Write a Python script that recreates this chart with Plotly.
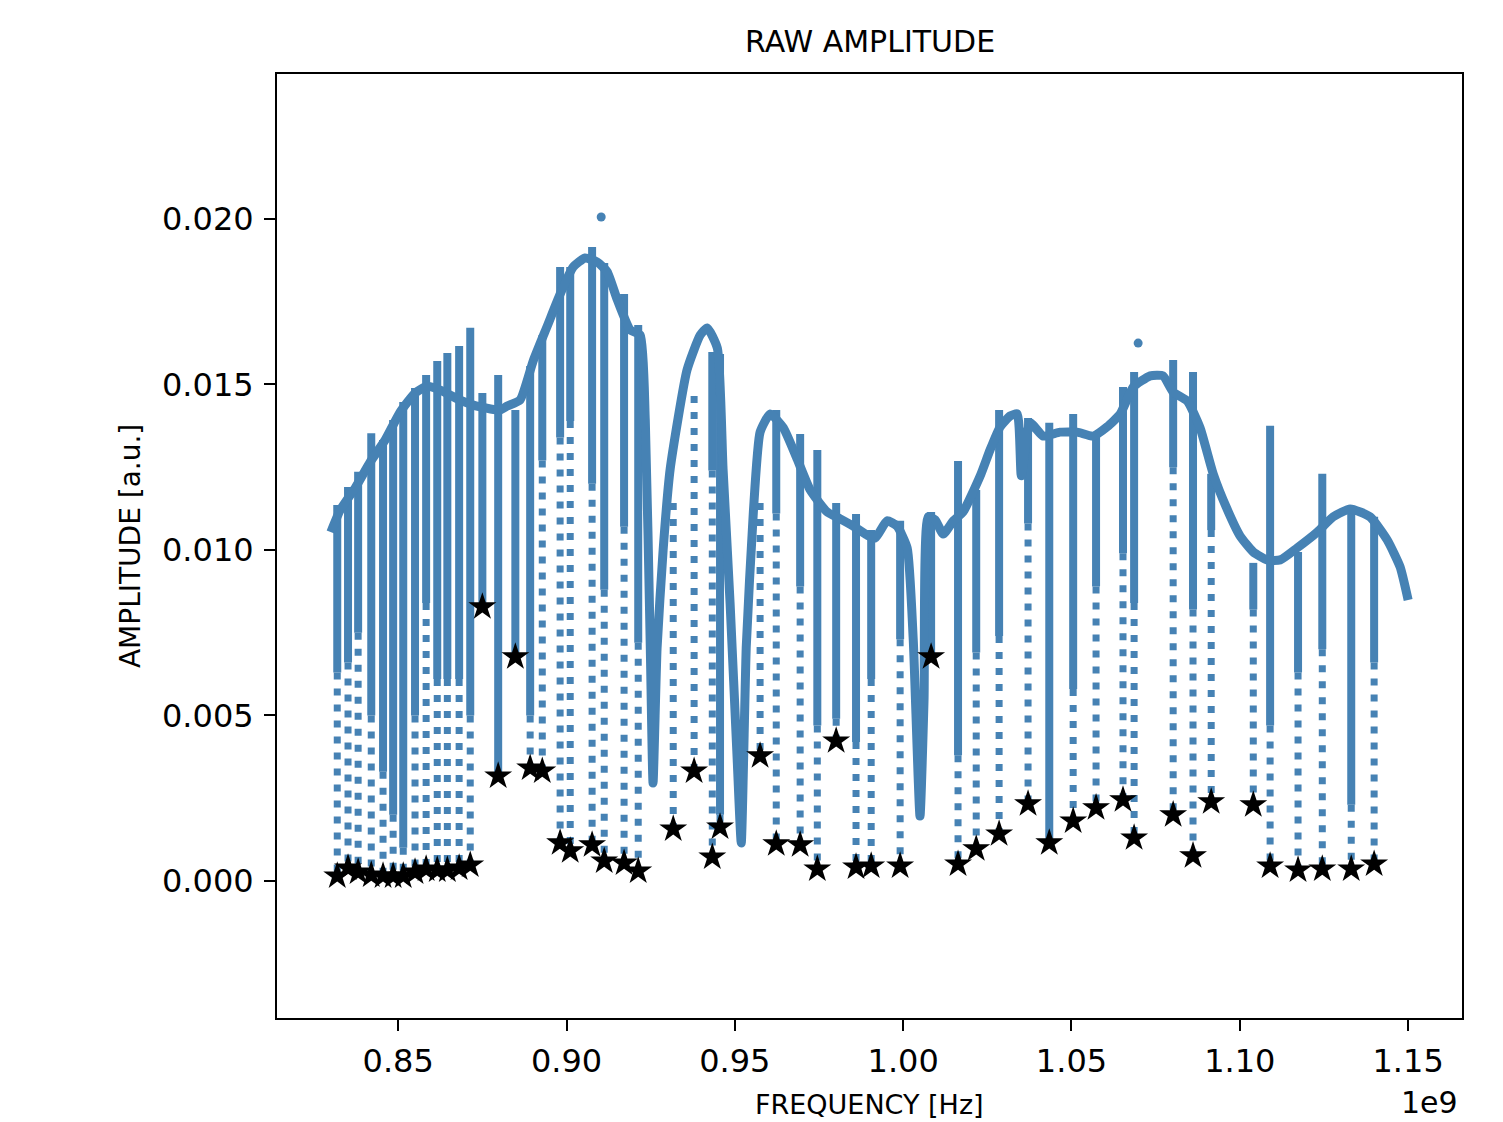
import plotly.graph_objects as go

BLUE = "#4682b4"

# Envelope of the raw amplitude curve (frequency in GHz, amplitude a.u.)
env_freq = [0.8300, 0.8328, 0.8372, 0.8417, 0.8461, 0.8506, 0.8550, 0.8586, 0.8625, 0.8684,
            0.8744, 0.8803, 0.8824, 0.8862, 0.8901, 0.8943, 0.8981, 0.9020, 0.9055, 0.9091,
            0.9121, 0.9150, 0.9189, 0.9219, 0.9234, 0.9249, 0.9257, 0.9269, 0.9287, 0.9308,
            0.9358, 0.9397, 0.9418, 0.9448, 0.9465, 0.9486, 0.9507, 0.9519, 0.9534, 0.9555,
            0.9575, 0.9605, 0.9644, 0.9685, 0.9724, 0.9774, 0.9813, 0.9852, 0.9893, 0.9917,
            0.9952, 0.9982, 1.0012, 1.0030, 1.0050, 1.0062, 1.0074, 1.0095, 1.0119, 1.0149,
            1.0178, 1.0229, 1.0258, 1.0288, 1.0318, 1.0339, 1.0351, 1.0377, 1.0416, 1.0466,
            1.0517, 1.0564, 1.0606, 1.0645, 1.0683, 1.0734, 1.0772, 1.0802, 1.0844, 1.0882,
            1.0921, 1.0962, 1.1001, 1.1040, 1.1081, 1.1120, 1.1170, 1.1230, 1.1277, 1.1328,
            1.1387, 1.1438, 1.1476, 1.1500]
env_amp = [0.01054, 0.01121, 0.01187, 0.01266, 0.01332, 0.01417, 0.01474, 0.01495, 0.01483, 0.01453,
           0.01432, 0.01423, 0.01435, 0.01453, 0.01571, 0.01677, 0.01773, 0.01855, 0.01882, 0.01870,
           0.01840, 0.01758, 0.01665, 0.01649, 0.01393, 0.00698, 0.00296, 0.00704, 0.01000, 0.01245,
           0.01544, 0.01649, 0.01671, 0.01610, 0.01245, 0.00837, 0.00366, 0.00115, 0.00710, 0.01115,
           0.01356, 0.01411, 0.01369, 0.01275, 0.01181, 0.01115, 0.01094, 0.01072, 0.01045, 0.01036,
           0.01088, 0.01072, 0.01006, 0.00728, 0.00196, 0.00547, 0.01100, 0.01091, 0.01048, 0.01088,
           0.01115, 0.01224, 0.01302, 0.01372, 0.01405, 0.01411, 0.01224, 0.01384, 0.01344, 0.01356,
           0.01356, 0.01344, 0.01372, 0.01411, 0.01492, 0.01526, 0.01526, 0.01477, 0.01450, 0.01369,
           0.01230, 0.01124, 0.01042, 0.00994, 0.00970, 0.00970, 0.01006, 0.01054, 0.01100, 0.01124,
           0.01100, 0.01030, 0.00949, 0.00849]

# Detected minima (stars), the top of the sample column above each,
# and the level down to which that column's samples look continuous
dip_freq = [0.8319, 0.8351, 0.8381, 0.8420, 0.8455, 0.8485, 0.8515, 0.8550, 0.8583, 0.8616,
            0.8646, 0.8681, 0.8714, 0.8750, 0.8797, 0.8848, 0.8892, 0.8928, 0.8981, 0.9011,
            0.9076, 0.9112, 0.9171, 0.9213, 0.9317, 0.9379, 0.9433, 0.9456, 0.9575, 0.9623,
            0.9694, 0.9745, 0.9801, 0.9860, 0.9905, 0.9991, 1.0083, 1.0163, 1.0217, 1.0285,
            1.0371, 1.0434, 1.0505, 1.0573, 1.0653, 1.0686, 1.0802, 1.0861, 1.0915, 1.1040,
            1.1090, 1.1173, 1.1245, 1.1331, 1.1399]
dip_min = [0.00015, 0.00039, 0.00027, 0.00018, 0.00015, 0.00015, 0.00015, 0.00027, 0.00036, 0.00033,
           0.00033, 0.00039, 0.00048, 0.00828, 0.00317, 0.00677, 0.00341, 0.00332, 0.00115, 0.00091,
           0.00109, 0.00060, 0.00054, 0.00030, 0.00157, 0.00332, 0.00072, 0.00163, 0.00378, 0.00112,
           0.00109, 0.00036, 0.00423, 0.00042, 0.00045, 0.00045, 0.00677, 0.00051, 0.00097, 0.00142,
           0.00233, 0.00115, 0.00181, 0.00221, 0.00245, 0.00130, 0.00200, 0.00076, 0.00239, 0.00230,
           0.00045, 0.00033, 0.00036, 0.00036, 0.00051]
dip_top = [0.01136, 0.01190, 0.01236, 0.01353, 0.01332, 0.01393, 0.01447, 0.01489, 0.01529, 0.01571,
           0.01595, 0.01616, 0.01671, 0.01474, 0.01529, 0.01423, 0.01556, 0.01649, 0.01855, 0.01855,
           0.01915, 0.01867, 0.01773, 0.01680, 0.01142, 0.01465, 0.01598, 0.01592, 0.01142, 0.01423,
           0.01350, 0.01302, 0.01142, 0.01109, 0.01060, 0.01088, 0.01115, 0.01269, 0.01181, 0.01423,
           0.01399, 0.01384, 0.01411, 0.01350, 0.01492, 0.01538, 0.01574, 0.01538, 0.01230, 0.00961,
           0.01375, 0.00994, 0.01230, 0.01130, 0.01100]
dip_dense = [0.00630, 0.00660, 0.00750, 0.00500, 0.00330, 0.00200, 0.00100, 0.00500, 0.00840, 0.00610,
             0.00610, 0.00610, 0.00500, 0.00828, 0.00317, 0.00677, 0.00500, 0.01270, 0.01340, 0.01390,
             0.01200, 0.00880, 0.01070, 0.00720, 0.01142, 0.01465, 0.01240, 0.00200, 0.01142, 0.01110,
             0.00890, 0.00470, 0.00490, 0.00420, 0.00610, 0.00730, 0.00677, 0.00380, 0.00690, 0.00740,
             0.01080, 0.00115, 0.00580, 0.00890, 0.00990, 0.00840, 0.01250, 0.00820, 0.01060, 0.00820,
             0.00470, 0.00630, 0.00700, 0.00230, 0.00660]

# Isolated outlier samples
extra_freq = [0.9103, 1.0698]
extra_amp = [0.02006, 0.01625]

x_ticks = [0.85, 0.90, 0.95, 1.00, 1.05, 1.10, 1.15]
y_ticks = [0.000, 0.005, 0.010, 0.015, 0.020]

G = 1e9
fig = go.Figure()

# continuous upper part of each sample column
sx, sy = [], []
for f, hi, mid in zip(dip_freq, dip_top, dip_dense):
    sx += [f * G, f * G, None]
    sy += [hi, mid, None]
fig.add_trace(go.Scatter(x=sx, y=sy, mode="lines", connectgaps=False,
                         line=dict(color=BLUE, width=8),
                         hoverinfo="skip", showlegend=False))

# sparse lower part of each sample column
dx, dy = [], []
for f, mid, lo in zip(dip_freq, dip_dense, dip_min):
    dx += [f * G, f * G, None]
    dy += [mid, lo, None]
fig.add_trace(go.Scatter(x=dx, y=dy, mode="lines", connectgaps=False,
                         line=dict(color=BLUE, width=7, dash="7px,9px"),
                         hoverinfo="skip", showlegend=False))

# envelope
fig.add_trace(go.Scatter(x=[f * G for f in env_freq], y=env_amp, mode="lines",
                         line=dict(color=BLUE, width=9, shape="spline", smoothing=0.5),
                         showlegend=False))

fig.add_trace(go.Scatter(x=[f * G for f in extra_freq], y=extra_amp, mode="markers",
                         marker=dict(color=BLUE, size=9), showlegend=False))

# minima
fig.add_trace(go.Scatter(x=[f * G for f in dip_freq], y=dip_min, mode="markers",
                         marker=dict(symbol="star", color="black", size=21,
                                     line=dict(width=0)),
                         showlegend=False))

FONT = "DejaVu Sans"
fig.update_layout(
    width=1495, height=1114,
    paper_bgcolor="white", plot_bgcolor="white",
    margin=dict(l=269, r=41, t=66, b=104),
    font=dict(family=FONT, color="black"),
    showlegend=False,
    annotations=[
        dict(text="RAW AMPLITUDE", xref="paper", yref="paper", x=0.5, y=1.034,
             xanchor="center", yanchor="middle", showarrow=False, font=dict(size=30)),
        dict(text="FREQUENCY [Hz]", xref="paper", yref="paper", x=0.5, y=-0.092,
             xanchor="center", yanchor="middle", showarrow=False, font=dict(size=27)),
        dict(text="AMPLITUDE [a.u.]", xref="paper", yref="paper", x=-0.124, y=0.5,
             xanchor="center", yanchor="middle", showarrow=False, textangle=-90,
             font=dict(size=28)),
        dict(text="1e9", xref="paper", yref="paper", x=0.9985, y=-0.089,
             xanchor="right", yanchor="middle", showarrow=False, font=dict(size=30)),
    ],
)
fig.update_xaxes(range=[0.814 * G, 1.166 * G], tickvals=[t * G for t in x_ticks],
                 ticktext=[f"{t:.2f}" for t in x_ticks], showgrid=False, zeroline=False,
                 showline=True, mirror=True, linecolor="black", linewidth=2,
                 ticks="outside", ticklen=11, tickwidth=2, tickcolor="black",
                 tickfont=dict(size=32, family=FONT), ticklabelstandoff=3)
fig.update_yaxes(range=[-0.00414, 0.02438], tickvals=y_ticks,
                 ticktext=[f"{t:.3f}" for t in y_ticks], showgrid=False, zeroline=False,
                 showline=True, mirror=True, linecolor="black", linewidth=2,
                 ticks="outside", ticklen=11, tickwidth=2, tickcolor="black",
                 tickfont=dict(size=32, family=FONT), ticklabelstandoff=4)

fig.write_html("out.html")
